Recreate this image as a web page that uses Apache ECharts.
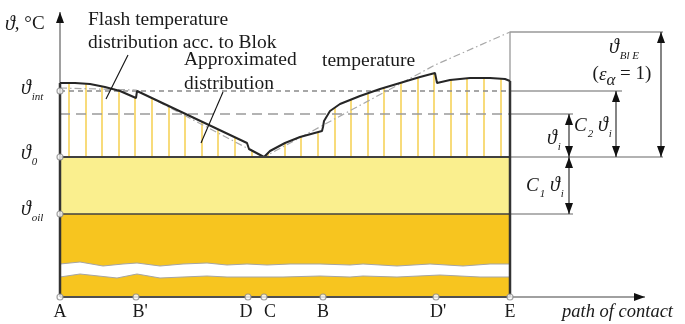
<!DOCTYPE html>
<html><head><meta charset="utf-8">
<script src="https://cdn.jsdelivr.net/npm/echarts@6/dist/echarts.min.js"></script>
<style>html,body{margin:0;padding:0;background:#fff}#c{width:685px;height:324px}</style>
</head><body><div id="c"></div>
<script>
// ---------------- data (x: position along path of contact, y: temperature level, schematic units) ----------------
const pointNames = ['A', "B'", 'D', 'C', 'B', "D'", 'E'];
const pointPos   = [0, 76, 188, 204, 263, 376, 450];
const levelValues = [206, 140, 83];          // ϑint, ϑ0, ϑoil
const levelTheta_i = 183;                    // ϑ0 + ϑi
const levelBlE = 265;                        // ϑ0 + ϑBlE
const flashX = [0, 15, 30, 45, 60, 76, 77, 187, 189, 204, 210, 225, 240, 262, 263, 264, 267, 270, 280, 300, 320, 340, 360, 375, 377, 390, 410, 430, 445, 450];
const flashY = [214, 214, 213, 210, 206, 199, 206, 154, 148, 140, 146, 154, 160, 166, 170, 176, 181, 186, 193, 201, 208, 214, 220, 224, 214, 217, 219, 219, 218, 216];
const approxX = [0, 76, 204, 375, 450];
const approxY = [209, 207, 140, 232, 265];
const hatchX = [9, 26, 42, 59, 75, 92, 109, 125, 142, 158, 175, 192, 208, 225, 241, 258, 275, 291, 308, 324, 341, 358, 374, 391, 407, 424, 441];
const hatchTop = [214, 214, 211, 206, 200, 199, 191, 183, 175, 168, 160, 146, 144, 154, 160, 165, 190, 198, 204, 209, 214, 219, 224, 217, 219, 219, 218];
const waveTopX = [0, 20, 43, 63, 77, 100, 123, 147, 167, 187, 207, 230, 260, 290, 303, 337, 370, 403, 430, 450];
const waveTopY = [33, 35, 31, 33, 34, 31, 33, 34, 32, 33, 32, 33, 33, 32, 33, 31, 33, 31, 33, 33];
const waveBotX = [0, 20, 57, 77, 100, 123, 147, 167, 190, 223, 260, 290, 303, 337, 380, 420, 450];
const waveBotY = [20, 23, 19, 23, 19, 20, 21, 20, 20, 20, 21, 20, 21, 20, 22, 20, 20];

// ---------------- drawing ----------------
const SERIF = "'Liberation Serif','DejaVu Serif',serif";
const INK = '#1a1a1a';
const LIGHT = '#FAEF8E', ORANGE = '#F7C51F';
const zip = (xs, ys) => xs.map((x, i) => [x, ys[i]]);
const [vInt, v0, vOil] = levelValues;
const xA = pointPos[0], xE = pointPos[pointPos.length - 1];
const dimX = [509, 556, 601];

function lineS(data, color, width, z, type, extra) {
  return Object.assign({type: 'line', data, symbol: 'none', silent: true, animation: false, z,
    lineStyle: {color, width, type: type || 'solid'}}, extra || {});
}
function head(tip, from) {
  const dx = tip[0] - from[0], dy = tip[1] - from[1];
  const L = Math.hypot(dx, dy) || 1, ux = dx / L, uy = dy / L;
  const len = 11, hw = 4;
  const bx = tip[0] - ux * len, by = tip[1] - uy * len;
  return {type: 'polygon', shape: {points: [tip, [bx - uy * hw, by + ux * hw], [bx + uy * hw, by - ux * hw]]}, style: {fill: '#111'}};
}
function arrowSeries(rows, shaft, width, z) {
  return {type: 'custom', silent: true, animation: false, z, data: rows,
    renderItem: (params, api) => {
      const p1 = api.coord([api.value(0), api.value(1)]);
      const p2 = api.coord([api.value(2), api.value(3)]);
      const ch = [{type: 'line', shape: {x1: p1[0], y1: p1[1], x2: p2[0], y2: p2[1]}, style: {stroke: shaft, lineWidth: width}}];
      ch.push(head(p2, p1));
      if (api.value(4)) ch.push(head(p1, p2));
      return {type: 'group', children: ch};
    }};
}

const rich = {
  v: {fontFamily: SERIF, fontSize: 20, fontStyle: 'italic', lineHeight: 24, verticalAlign: 'top', fill: INK},
  c: {fontFamily: SERIF, fontSize: 19, fontStyle: 'italic', lineHeight: 24, verticalAlign: 'top', fill: INK},
  n: {fontFamily: SERIF, fontSize: 19, lineHeight: 24, verticalAlign: 'top', fill: INK},
  s: {fontFamily: SERIF, fontSize: 11, fontStyle: 'italic', lineHeight: 12, verticalAlign: 'bottom', padding: [14, 0, 0, 1], fill: INK},
  a: {fontFamily: SERIF, fontSize: 17, fontStyle: 'italic', lineHeight: 18, verticalAlign: 'bottom', padding: [7, 0, 0, 0], fill: INK}
};

const texts = [
  {x: -55, y: 270, text: '{v|ϑ}{n|, °C}', rich: true},
  {x: -39, y: vInt, text: '{v|ϑ}{s|int}', rich: true},
  {x: -39, y: v0 + 1, text: '{v|ϑ}{s|0}', rich: true},
  {x: -39, y: vOil + 2, text: '{v|ϑ}{s|oil}', rich: true},
  {x: 502, y: -15, text: 'path of contact', italic: true, size: 18.5},
  {x: 28, y: 266, text: 'Flash temperature\ndistribution acc. to Blok', lh: 23, size: 19.5},
  {x: 124, y: 225, text: 'Approximated\ndistribution', lh: 24, size: 19.5},
  {x: 262, y: 236, text: 'temperature', size: 19.5},
  {x: 549, y: 247, text: '{v|ϑ}{s|Bl E}', rich: true},
  {x: 562, y: 220, text: '{n|(}{c|ε}{a|α}{n| = 1)}', rich: true, align: 'center'},
  {x: 514, y: 169, text: '{c|C}{s|2}{n| }{v|ϑ}{s|i}', rich: true},
  {x: 487, y: 156, text: '{v|ϑ}{s|i}', rich: true},
  {x: 466, y: 109, text: '{c|C}{s|1}{n| }{v|ϑ}{s|i}', rich: true}
];
const labelShift = [0, 4, -2, 6, 0, 2, 0];
pointNames.forEach((n, i) => texts.push({x: pointPos[i] + labelShift[i], y: -15, text: n, align: 'center', size: 18}));

const option = {
  animation: false,
  backgroundColor: '#fff',
  grid: {left: 0, right: 0, top: 0, bottom: 0},
  xAxis: {type: 'value', min: -60, max: 625, show: false},
  yAxis: {type: 'value', min: -27, max: 297, show: false},
  series: [
    // filled layers: light layer (ϑoil..ϑ0), dark layer split by the white break band
    {type: 'custom', silent: true, animation: false, z: 1, data: [[0, 0]],
      renderItem: (params, api) => {
        const c = p => api.coord(p);
        const top = zip(waveTopX, waveTopY).map(c);
        const bot = zip(waveBotX, waveBotY).map(c);
        return {type: 'group', children: [
          {type: 'polygon', shape: {points: [c([xA, v0]), c([xE, v0]), c([xE, vOil]), c([xA, vOil])]}, style: {fill: LIGHT}},
          {type: 'polygon', shape: {points: [c([xA, vOil]), c([xE, vOil])].concat(top.slice().reverse())}, style: {fill: ORANGE}},
          {type: 'polygon', shape: {points: bot.concat([c([xE, 0]), c([xA, 0])])}, style: {fill: ORANGE}},
          {type: 'polyline', shape: {points: top}, style: {stroke: '#A5A5A5', lineWidth: 1, fill: null}},
          {type: 'polyline', shape: {points: bot}, style: {stroke: '#A5A5A5', lineWidth: 1, fill: null}}
        ]};
      }},
    // hatch lines under curve
    {type: 'custom', silent: true, animation: false, z: 2, data: zip(hatchX, hatchTop),
      renderItem: (params, api) => {
        const a = api.coord([api.value(0), v0]);
        const b = api.coord([api.value(0), api.value(1)]);
        return {type: 'line', shape: {x1: a[0], y1: a[1], x2: b[0], y2: b[1]}, style: {stroke: '#F6D25A', lineWidth: 1.6}};
      }},
    // reference levels
    lineS([[xA, vInt], [xE, vInt]], '#8A8A8A', 1.3, 3, [5, 4]),
    lineS([[xE, vInt], [dimX[1] + 6, vInt]], '#999', 1.3, 3),
    lineS([[xA, levelTheta_i], [xE, levelTheta_i]], '#9A9A9A', 1.6, 3, [10, 6]),
    lineS([[xE, levelTheta_i], [dimX[0] + 4, levelTheta_i]], '#999', 1.3, 3),
    lineS([[xE, v0], [dimX[2] + 2, v0]], '#999', 1.3, 3),
    lineS([[xE, vOil], [dimX[0] + 4, vOil]], '#999', 1.3, 3),
    lineS([[xE, flashY[flashY.length - 1]], [xE, levelBlE], [dimX[2] + 2, levelBlE]], '#999', 1.3, 3),
    // approximated distribution
    lineS(zip(approxX, approxY), '#A8A8A8', 1.2, 3, [7, 3, 1.5, 3]),
    // axes
    arrowSeries([[xA, 0, xA, 285, 0], [xA, 0, 585, 0, 0]], '#808080', 1.5, 3),
    // flash temperature curve
    lineS(zip(flashX, flashY), '#262626', 2, 4),
    // borders
    lineS([[xA, v0], [xE, v0]], '#404040', 2, 5),
    lineS([[xA, vOil], [xE, vOil]], '#404040', 1.5, 5),
    lineS([[xA, 0], [xE, 0]], '#505050', 2, 5),
    lineS([[xA, 0], [xA, flashY[0]]], '#333', 2.5, 5),
    lineS([[xE, 0], [xE, flashY[flashY.length - 1]]], '#333', 2.5, 5),
    // dimension arrows
    arrowSeries([[dimX[0], v0, dimX[0], levelTheta_i, 1], [dimX[1], v0, dimX[1], vInt, 1], [dimX[2], v0, dimX[2], levelBlE, 1], [dimX[0], vOil, dimX[0], v0, 1]], '#333', 1.2, 5),
    // leader lines
    lineS([[68, 242], [46, 198]], '#111', 1.1, 6),
    lineS([[163, 205], [141, 154]], '#111', 1.1, 6),
    // markers
    {type: 'scatter', silent: true, animation: false, z: 7, symbol: 'circle', symbolSize: 6,
      itemStyle: {color: '#fff', borderColor: '#8C8C8C', borderWidth: 1.2},
      data: levelValues.map(v => [xA, v]).concat(pointPos.map(x => [x, 0]))},
    // texts
    {type: 'custom', silent: true, animation: false, z: 8, data: texts.map((t, i) => [t.x, t.y, i]),
      renderItem: (params, api) => {
        const t = texts[params.dataIndex];
        const p = api.coord([t.x, t.y]);
        const style = {text: t.text, fontFamily: SERIF, fontSize: t.size || 19, fontStyle: t.italic ? 'italic' : 'normal',
          fill: INK, align: t.align || 'left', verticalAlign: 'middle'};
        if (t.lh) style.lineHeight = t.lh;
        if (t.rich) style.rich = rich;
        return {type: 'text', x: p[0], y: p[1], style};
      }}
  ]
};
const chart = echarts.init(document.getElementById('c'), null, {renderer: 'canvas'});
chart.setOption(option);
</script>
</body></html>
